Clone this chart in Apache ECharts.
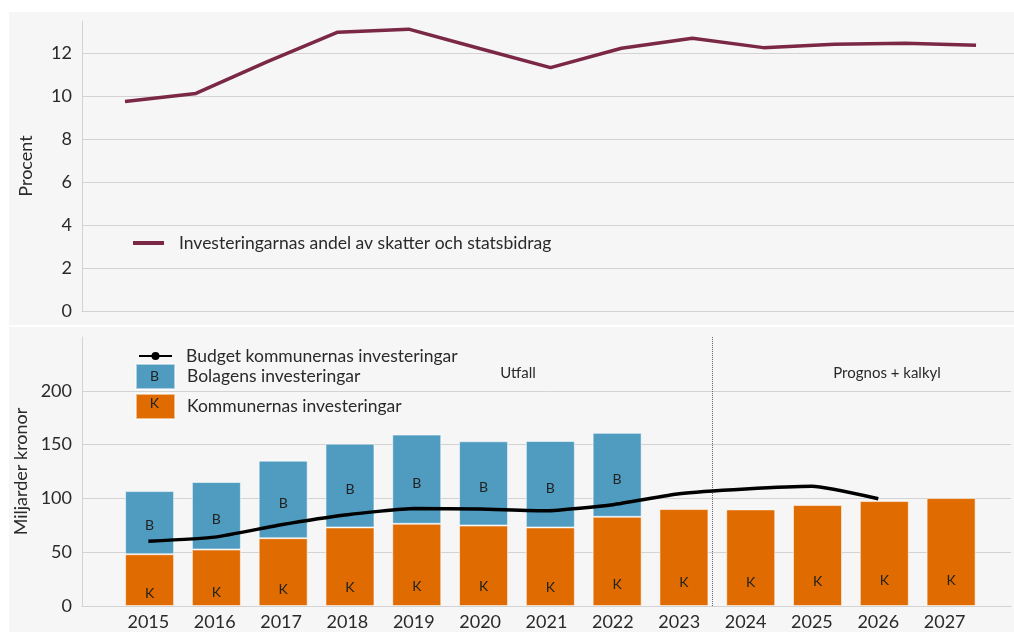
<!DOCTYPE html>
<html>
<head>
<meta charset="utf-8">
<script src="https://cdn.jsdelivr.net/npm/echarts@6/dist/echarts.min.js"></script>
<style>
html,body{margin:0;padding:0;background:#fff;}
#chart{width:1014px;height:632px;}
</style>
</head>
<body>
<div id="chart"></div>
<script>
// ---- data ----
const years = [2015, 2016, 2017, 2018, 2019, 2020, 2021, 2022, 2023, 2024, 2025, 2026, 2027];
const andelValues = [9.75, 10.13, 11.6, 12.98, 13.12, 12.22, 11.33, 12.23, 12.70, 12.26, 12.42, 12.46, 12.37];
const kommunValues = [48.1, 52.5, 63.0, 73.0, 76.4, 74.8, 73.0, 82.9, 90.1, 89.8, 93.8, 97.5, 100.3];
const bolagValues = [58.7, 62.7, 72.1, 77.9, 82.9, 78.3, 80.4, 78.0, null, null, null, null, null];
const budgetValues = [60.2, 64.0, 75.5, 84.8, 90.7, 90.1, 88.5, 94.1, 104.3, 108.7, 111.2, 99.7, null];
const procentTicks = [0, 2, 4, 6, 8, 10, 12];
const kronorTicks = [0, 50, 100, 150, 200];
const nameAndel = 'Investeringarnas andel av skatter och statsbidrag';
const nameBudget = 'Budget kommunernas investeringar';
const nameBolag = 'Bolagens investeringar';
const nameKommun = 'Kommunernas investeringar';
const periodSplit = 2023.5;

const pair = arr => years.map((y, i) => [y, arr[i]]);
const yearLabels = years.map(String);

const FONT = 'Lato, "Open Sans", sans-serif';
const GRID = '#d3d3d3';
const TXT = '#2a2a2a';
const AX = 18;
const LG = 17.5;

const chart = echarts.init(document.getElementById('chart'), null, {renderer: 'canvas'});

const option = {
  backgroundColor: '#ffffff',
  animation: false,
  textStyle: {fontFamily: FONT},
  graphic: [
    {type: 'rect', z: -10, shape: {x: 9, y: 12, width: 1005, height: 313}, style: {fill: '#f6f6f6'}},
    {type: 'rect', z: -10, shape: {x: 9, y: 327, width: 1005, height: 305}, style: {fill: '#f6f6f6'}},
    {type: 'text', z: 100, x: 518, y: 373, style: {text: 'Utfall', fontSize: 15, fontFamily: FONT, fill: '#2a2a2a', align: 'center', verticalAlign: 'middle'}},
    {type: 'text', z: 100, x: 887, y: 373, style: {text: 'Prognos + kalkyl', fontSize: 15, fontFamily: FONT, fill: '#2a2a2a', align: 'center', verticalAlign: 'middle'}},
    {type: 'text', z: 100, x: 154.5, y: 376, style: {text: 'B', fontSize: 14, fontFamily: FONT, fill: '#222', align: 'center', verticalAlign: 'middle'}},
    {type: 'text', z: 100, x: 154.5, y: 403.5, style: {text: 'K', fontSize: 14, fontFamily: FONT, fill: '#222', align: 'center', verticalAlign: 'middle'}}
  ],
  legend: [
    {
      data: [{name: nameAndel, icon: 'rect'}], left: 128, top: 229, itemWidth: 31, itemHeight: 4,
      textStyle: {fontSize: LG, color: TXT, fontFamily: FONT, padding: [0, 0, 0, 10]},
      selectedMode: false
    },
    {
      data: [nameBudget], left: 133, top: 342, itemWidth: 33, itemHeight: 10,
      textStyle: {fontSize: LG, color: TXT, fontFamily: FONT, padding: [0, 0, 0, 9]},
      selectedMode: false
    },
    {
      data: [{name: nameBolag, icon: 'rect'}, {name: nameKommun, icon: 'rect'}], orient: 'vertical', left: 130, top: 358,
      itemWidth: 39, itemHeight: 25, itemGap: 3,
      textStyle: {fontSize: LG, color: TXT, fontFamily: FONT, padding: [0, 0, 0, 7]},
      selectedMode: false
    }
  ],
  grid: [
    {left: 82, top: 21, right: 0, height: 290},
    {left: 82, top: 337, width: 935, height: 269},
    {left: 116.2, top: 337, width: 868.3, height: 269}
  ],
  xAxis: [
    {
      gridIndex: 0, type: 'value', min: 2014.394, max: 2027.535,
      axisLine: {show: true, lineStyle: {color: GRID, width: 1}},
      axisTick: {show: false}, axisLabel: {show: false}, splitLine: {show: false}
    },
    {
      gridIndex: 1, type: 'value', min: 2014, max: 2028, interval: 1,
      axisLine: {show: true, lineStyle: {color: GRID, width: 1}},
      axisTick: {show: false}, splitLine: {show: false},
      axisLabel: {
        fontSize: AX, color: TXT, fontFamily: FONT, margin: 7,
        formatter: v => (years.indexOf(v) >= 0 ? String(v) : '')
      }
    },
    {
      gridIndex: 2, type: 'category', data: yearLabels, boundaryGap: true, show: false
    }
  ],
  yAxis: [
    {
      gridIndex: 0, type: 'value', min: 0, max: 13.5, interval: 2,
      name: 'Procent', nameLocation: 'middle', nameRotate: 90, nameGap: 47,
      nameTextStyle: {fontSize: AX, color: TXT, fontFamily: FONT},
      axisLine: {show: true, lineStyle: {color: GRID, width: 1}},
      axisTick: {show: false},
      axisLabel: {fontSize: AX, color: TXT, fontFamily: FONT, margin: 10, showMaxLabel: false,
        formatter: v => (procentTicks.indexOf(v) >= 0 ? String(v) : '')},
      splitLine: {show: true, showMaxLine: false, lineStyle: {color: GRID, width: 1}}
    },
    {
      gridIndex: 1, type: 'value', min: 0, max: 250, interval: 50,
      name: 'Miljarder kronor', nameLocation: 'middle', nameRotate: 90, nameGap: 47,
      nameTextStyle: {fontSize: AX, color: TXT, fontFamily: FONT},
      axisLine: {show: true, lineStyle: {color: GRID, width: 1}},
      axisTick: {show: false},
      axisLabel: {fontSize: AX, color: TXT, fontFamily: FONT, margin: 10, showMaxLabel: false,
        formatter: v => (kronorTicks.indexOf(v) >= 0 ? String(v) : '')},
      splitLine: {show: true, showMaxLine: false, lineStyle: {color: GRID, width: 1}}
    },
    {
      gridIndex: 2, type: 'value', min: 0, max: 250, show: false, splitLine: {show: false}
    }
  ],
  series: [
    {
      name: nameAndel, type: 'line', xAxisIndex: 0, yAxisIndex: 0,
      data: pair(andelValues), symbol: 'none',
      lineStyle: {color: '#7b2846', width: 3.5}, itemStyle: {color: '#7b2846'}
    },
    {
      name: nameKommun, type: 'bar', xAxisIndex: 2, yAxisIndex: 2, stack: 'inv',
      data: kommunValues, barWidth: 49,
      itemStyle: {color: '#e06b00', borderColor: 'rgba(255,255,255,0.55)', borderWidth: 1},
      label: {show: true, formatter: 'K', position: ['50%', '76%'], align: 'center', verticalAlign: 'middle',
        fontSize: 14, color: '#222', fontFamily: FONT}
    },
    {
      name: nameBolag, type: 'bar', xAxisIndex: 2, yAxisIndex: 2, stack: 'inv',
      data: bolagValues, barWidth: 49,
      itemStyle: {color: '#4f9cc0', borderColor: 'rgba(255,255,255,0.55)', borderWidth: 1},
      label: {show: true, formatter: 'B', position: ['50%', '55%'], align: 'center', verticalAlign: 'middle',
        fontSize: 14, color: '#222', fontFamily: FONT}
    },
    {
      name: nameBudget, type: 'line', xAxisIndex: 1, yAxisIndex: 1, z: 5,
      data: pair(budgetValues), symbol: 'circle', symbolSize: 9, showSymbol: false, smooth: 0.15,
      lineStyle: {color: '#000', width: 3.5}, itemStyle: {color: '#000'},
      markLine: {
        silent: true, symbol: ['none', 'none'], label: {show: false},
        lineStyle: {type: 'dotted', color: '#666', width: 1},
        data: [{xAxis: periodSplit}]
      }
    }
  ]
};
chart.setOption(option);
</script>
</body>
</html>
